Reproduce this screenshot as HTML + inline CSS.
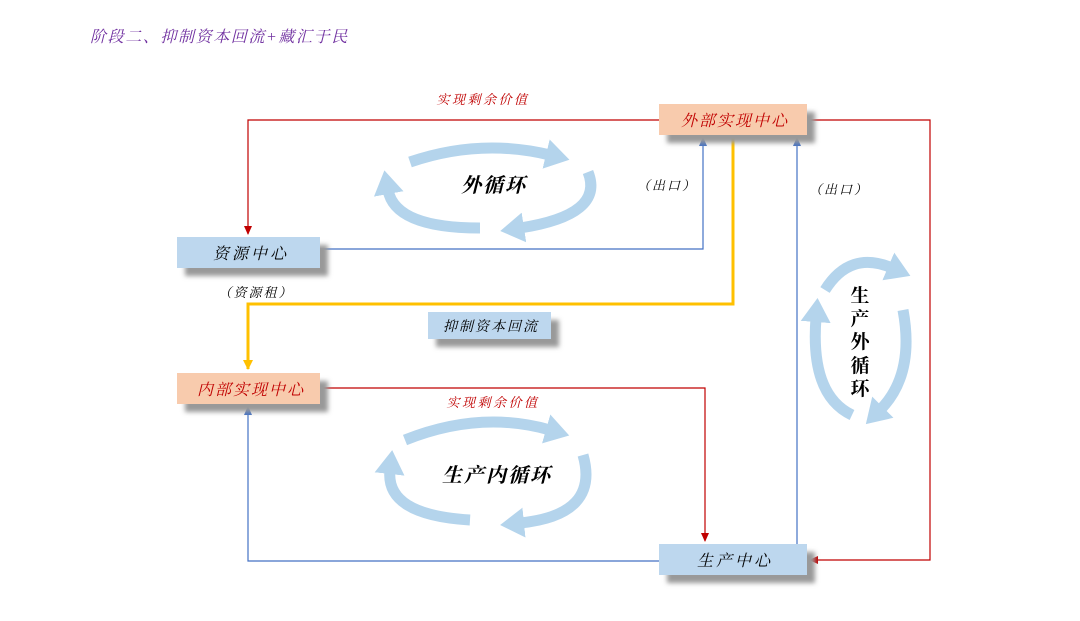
<!DOCTYPE html>
<html><head><meta charset="utf-8"><style>
html,body{margin:0;padding:0;background:#fff;}
svg{display:block;}
text{font-family:"Liberation Serif","Noto Serif CJK SC","Noto Sans CJK SC",serif;}
</style></head><body>
<svg width="1080" height="621" viewBox="0 0 1080 621" xmlns="http://www.w3.org/2000/svg">
<defs>
<filter id="sh" x="-20%" y="-20%" width="150%" height="180%"><feGaussianBlur stdDeviation="2.5"/></filter>
<marker id="ar" markerWidth="10" markerHeight="10" refX="8" refY="5" orient="auto" markerUnits="userSpaceOnUse"><path d="M0,1 L9,5 L0,9 z" fill="#c00000"/></marker>
<marker id="ab" markerWidth="10" markerHeight="10" refX="8" refY="5" orient="auto" markerUnits="userSpaceOnUse"><path d="M0,1 L9,5 L0,9 z" fill="#4472c4"/></marker>
<marker id="ay" markerWidth="12" markerHeight="12" refX="9" refY="6" orient="auto" markerUnits="userSpaceOnUse"><path d="M0,1 L10,6 L0,11 z" fill="#ffc000"/></marker>
<marker id="lb" markerWidth="34" markerHeight="34" refX="4" refY="17" orient="auto" markerUnits="userSpaceOnUse"><path d="M0,2 L24,17 L0,32 z" fill="#b4d4ec"/></marker>
</defs>

<text x="90" y="42" font-size="16" fill="#7030a0" font-style="italic" letter-spacing="1.6">阶段二、抑制资本回流+藏汇于民</text>

<g fill="none" stroke-width="1.2">
<polyline points="659,120 248,120 248,234" stroke="#c00000" marker-end="url(#ar)"/>
<polyline points="807,120 930,120 930,560 810,560" stroke="#c00000" marker-end="url(#ar)"/>
<polyline points="320,249 703,249 703,138" stroke="#4472c4" marker-end="url(#ab)"/>
<polyline points="320,388 705,388 705,541" stroke="#c00000" marker-end="url(#ar)"/>
<polyline points="659,561 248,561 248,407" stroke="#4472c4" marker-end="url(#ab)"/>
<polyline points="797,544 797,138" stroke="#4472c4" marker-end="url(#ab)"/>
</g>
<polyline points="733,135 733,304 248,304 248,369" fill="none" stroke="#ffc000" stroke-width="3" marker-end="url(#ay)"/>

<g>
<rect x="667" y="112" width="148" height="31" fill="#999" filter="url(#sh)"/>
<rect x="659" y="104" width="148" height="31" fill="#f8cbad"/>
<rect x="185" y="245" width="143" height="31" fill="#999" filter="url(#sh)"/>
<rect x="177" y="237" width="143" height="31" fill="#bdd7ee"/>
<rect x="436" y="320" width="123" height="27" fill="#999" filter="url(#sh)"/>
<rect x="428" y="312" width="123" height="27" fill="#bdd7ee"/>
<rect x="185" y="381" width="143" height="31" fill="#999" filter="url(#sh)"/>
<rect x="177" y="373" width="143" height="31" fill="#f8cbad"/>
<rect x="667" y="552" width="148" height="31" fill="#999" filter="url(#sh)"/>
<rect x="659" y="544" width="148" height="31" fill="#bdd7ee"/>
</g>
<g font-style="italic" text-anchor="middle">
<text x="735" y="126" font-size="16" fill="#c00000" letter-spacing="2">外部实现中心</text>
<text x="251" y="259" font-size="16" fill="#000" letter-spacing="3">资源中心</text>
<text x="491" y="331" font-size="14" fill="#000" letter-spacing="2">抑制资本回流</text>
<text x="251" y="395" font-size="16" fill="#c00000" letter-spacing="2">内部实现中心</text>
<text x="735" y="566" font-size="16" fill="#000" letter-spacing="3">生产中心</text>
<text x="483" y="104" font-size="13" fill="#c00000" letter-spacing="2.5">实现剩余价值</text>
<text x="493" y="407" font-size="13" fill="#c00000" letter-spacing="2.5">实现剩余价值</text>
<text x="667" y="190" font-size="13" fill="#000" letter-spacing="2">（出口）</text>
<text x="839" y="194" font-size="13" fill="#000" letter-spacing="2">（出口）</text>
<text x="256" y="297" font-size="13" fill="#000" letter-spacing="2">（资源租）</text>
</g>

<g fill="none" stroke="#b4d4ec" stroke-width="11" stroke-linecap="butt">
<path d="M410,162 Q480,138 550,155" marker-end="url(#lb)"/>
<path d="M588,172 Q605,215 520,228" marker-end="url(#lb)"/>
<path d="M480,228 Q395,228 388,190" marker-end="url(#lb)"/>
<path d="M405,440 Q480,410 550,430" marker-end="url(#lb)"/>
<path d="M583,455 Q600,515 520,523" marker-end="url(#lb)"/>
<path d="M470,520 Q385,515 390,470" marker-end="url(#lb)"/>
<path d="M825,290 Q850,250 892,268" marker-end="url(#lb)"/>
<path d="M903,310 Q915,375 880,410" marker-end="url(#lb)"/>
<path d="M852,415 Q810,395 816,318" marker-end="url(#lb)"/>
</g>

<g font-weight="bold" fill="#000" text-anchor="middle">
<text x="494" y="192" font-size="20" font-style="italic" letter-spacing="2">外循环</text>
<text x="497" y="482" font-size="20" font-style="italic" letter-spacing="2">生产内循环</text>
<text x="860" y="302" font-size="19">生</text>
<text x="860" y="325" font-size="19">产</text>
<text x="860" y="348" font-size="19">外</text>
<text x="860" y="372" font-size="19">循</text>
<text x="860" y="395" font-size="19">环</text>
</g>
</svg>
</body></html>
